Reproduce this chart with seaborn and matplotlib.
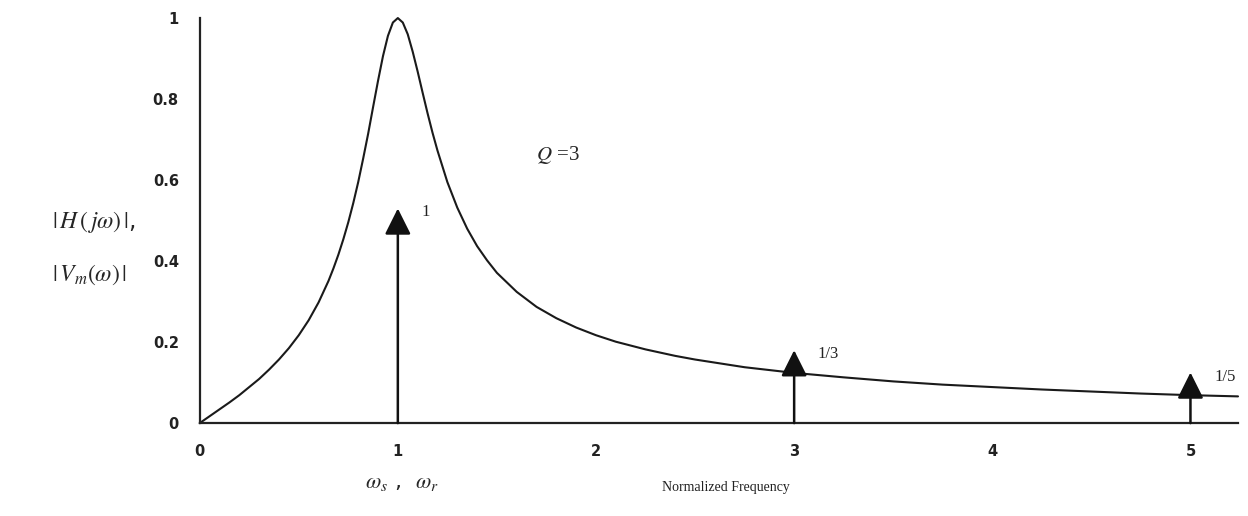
import matplotlib
matplotlib.use("Agg")
import matplotlib.pyplot as plt
import seaborn as sns
import pandas as pd

# Resonance curve |H(jw)| for Q = 3
freq = [0.0, 0.05, 0.1, 0.15, 0.2, 0.25, 0.3, 0.35, 0.4, 0.45, 0.5, 0.55, 0.6,
        0.65, 0.675, 0.7, 0.725, 0.75, 0.775, 0.8, 0.825, 0.85, 0.875, 0.9,
        0.925, 0.95, 0.975, 1.0, 1.025, 1.05, 1.075, 1.1, 1.125, 1.15, 1.175,
        1.2, 1.25, 1.3, 1.35, 1.4, 1.45, 1.5, 1.6, 1.7, 1.8, 1.9, 2.0, 2.1,
        2.25, 2.4, 2.5, 2.75, 3.0, 3.25, 3.5, 3.75, 4.0, 4.25, 4.5, 4.75,
        5.0, 5.24]
gain = [0.0, 0.017, 0.034, 0.051, 0.069, 0.089, 0.109, 0.132, 0.157, 0.185,
        0.217, 0.254, 0.298, 0.351, 0.382, 0.416, 0.454, 0.496, 0.543, 0.595,
        0.653, 0.714, 0.780, 0.845, 0.906, 0.956, 0.989, 1.0, 0.989, 0.960,
        0.917, 0.868, 0.816, 0.765, 0.717, 0.673, 0.595, 0.532, 0.480, 0.437,
        0.402, 0.371, 0.324, 0.287, 0.259, 0.236, 0.217, 0.201, 0.182, 0.166,
        0.157, 0.138, 0.124, 0.113, 0.103, 0.095, 0.089, 0.083, 0.078, 0.073,
        0.069, 0.066]

# Harmonic lines (arrows): frequency, height, label
harm_freq = [1, 3, 5]
harm_height = [0.53, 0.18, 0.125]
harm_label = ["1", "1/3", "1/5"]

xticks = [0, 1, 2, 3, 4, 5]
yticks = [0, 0.2, 0.4, 0.6, 0.8, 1]
ytick_labels = ["0", "0.2", "0.4", "0.6", "0.8", "1"]

sns.set_style("white")
plt.rcParams["font.family"] = ["DejaVu Sans"]

fig = plt.figure(figsize=(12.48, 5.16), dpi=100)
ax = fig.add_axes([0.160, 0.180, 0.832, 0.785])

df = pd.DataFrame({"f": freq, "H": gain})
sns.lineplot(data=df, x="f", y="H", ax=ax, color="#1a1a1a", linewidth=1.5)
for ln in ax.lines:
    ln.set_clip_on(False)

for xf, h, lab in zip(harm_freq, harm_height, harm_label):
    ax.annotate("", xy=(xf, h), xytext=(xf, 0),
                arrowprops=dict(arrowstyle="-|>,head_length=1.6,head_width=0.8",
                                color="#111111", lw=1.8, shrinkA=0, shrinkB=0),
                annotation_clip=False)
    ax.text(xf + 0.12, h - 0.01, lab, fontsize=12, family="Liberation Serif",
            ha="left", va="center", color="#222222")

ax.set_xlim(0, 5.24)
ax.set_ylim(0, 1)
ax.set_xticks(xticks)
ax.set_xticklabels([str(t) for t in xticks])
ax.set_yticks(yticks)
ax.set_yticklabels(ytick_labels)
ax.tick_params(axis="both", direction="inout", length=6, width=1.2,
               colors="#222222", labelsize=10.5, pad=12)
for lbl in ax.get_xticklabels() + ax.get_yticklabels():
    lbl.set_fontweight("bold")

for s in ["top", "right"]:
    ax.spines[s].set_visible(False)
for s in ["left", "bottom"]:
    ax.spines[s].set_color("#222222")
    ax.spines[s].set_linewidth(1.6)

ax.set_xlabel("")
ax.set_ylabel("")

ax.text(1.81, 0.662, r"$Q$ =3", fontsize=15, family="Liberation Serif",
        ha="center", va="center", math_fontfamily="stix")
fig.text(0.075, 0.570, r"$|\,H\,(\,j\omega)\,|$,", fontsize=17,
         ha="center", va="center", math_fontfamily="stix")
fig.text(0.072, 0.467, r"$|\,V_m(\omega)\,|$", fontsize=17,
         ha="center", va="center", math_fontfamily="stix")
fig.text(0.322, 0.063, r"$\omega_s$ ,  $\omega_r$", fontsize=16,
         ha="center", va="center", math_fontfamily="stix")
fig.text(0.582, 0.055, "Normalized Frequency", fontsize=10,
         family="Liberation Serif", ha="center", va="center", color="#222222")

fig.savefig("out.png", dpi=100)
